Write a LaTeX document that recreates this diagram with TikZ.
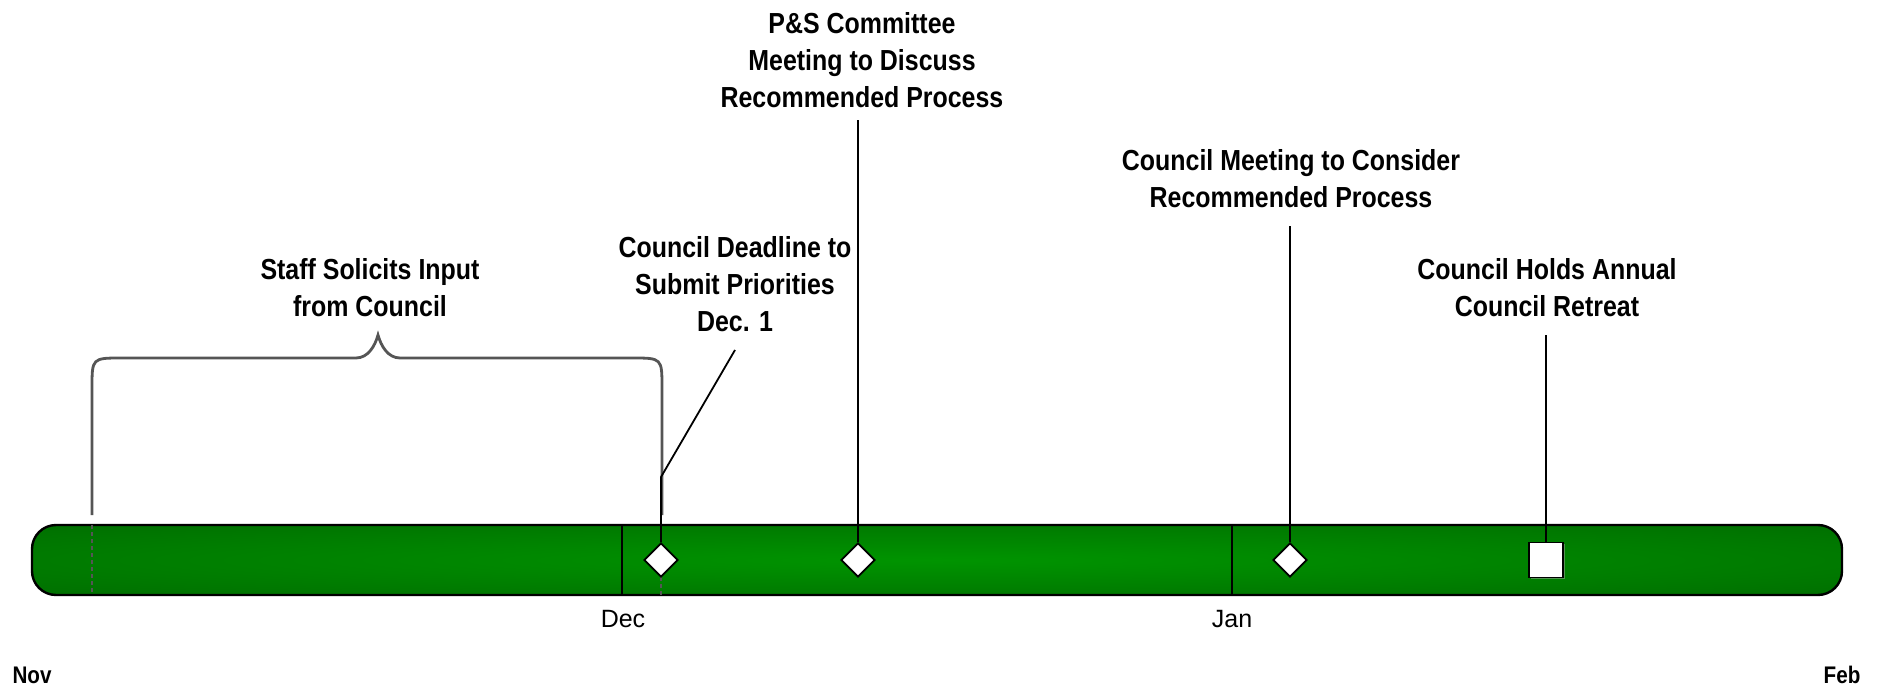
\documentclass[tikz,border=0pt]{standalone}
\usepackage{fontspec}
\setmainfont{Liberation Sans}
\newfontfamily\narrowfont[FakeStretch=0.86]{Liberation Sans}
\usetikzlibrary{shapes.geometric,shadows}
\definecolor{barlight}{RGB}{0,148,0}
\definecolor{bardark}{RGB}{0,96,0}
\definecolor{bracegray}{RGB}{85,85,85}
\pgfdeclareradialshading{barglow}{\pgfpoint{0bp}{0bp}}{color(0bp)=(barlight); color(50bp)=(bardark); color(72bp)=(bardark)}
\begin{document}
\begin{tikzpicture}
	[x=0.5pt,y=-0.5pt,
	timebar/.style={draw,line width=1.2pt,rounded corners=12pt,shade,shading=barglow,minimum width=905pt,minimum height=35pt,inner sep=0pt},
	milestone/.style={diamond,draw,line width=0.9pt,fill=white,minimum width=17pt,minimum height=17pt,inner sep=0pt},
	event/.style={rectangle,draw,line width=0.9pt,fill=white,minimum width=17pt,minimum height=17.5pt,inner sep=0pt,drop shadow={shadow xshift=0.8pt,shadow yshift=-0.8pt,fill=gray!70}},
	caption/.style={font=\narrowfont\bfseries\fontsize{14.5}{18.5}\selectfont,align=center,anchor=north,inner sep=0pt},
	month/.style={font=\fontsize{12.5}{15}\selectfont,anchor=base,inner sep=0pt},
	endmonth/.style={font=\narrowfont\bfseries\fontsize{12}{14}\selectfont,anchor=base,inner sep=0pt},
	leader/.style={line width=0.9pt},
	brace/.style={draw=bracegray,line width=1.4pt}]
	\useasboundingbox (0,0) rectangle (1881,690);
	\draw[brace] (92,515) -- (92,388) .. controls (92,358) .. (122,358) -- (356,358)
		.. controls (368,358) and (375,346) .. (378,335)
		.. controls (381,346) and (388,358) .. (400,358) -- (632,358)
		.. controls (662,358) .. (662,388) -- (662,515);
	\node[timebar] (bar) at (937,560) {};
	\foreach \x in {622,1232}
	{
		\draw[line width=0.8pt] (\x,525) -- (\x,595);
	}
	\draw[bracegray,line width=0.8pt,dash pattern=on 2pt off 1.5pt] (92,525) -- (92,595);
	\draw[bracegray,line width=0.8pt,dash pattern=on 2pt off 1.5pt] (661,577) -- (661,595);
	\node[month] (dec) at (623,627) {Dec};
	\node[month] (jan) at (1232,627) {Jan};
	\node[endmonth] (nov) at (32,683) {Nov};
	\node[endmonth] (feb) at (1842,683) {Feb};
	\coordinate (k1) at (661,477);
	\coordinate (t1) at (735,350);
	\coordinate (t2) at (858,120);
	\coordinate (t3) at (1290,226);
	\coordinate (t4) at (1546,335);
	\node[milestone] (m1) at (661,560) {};
	\node[milestone] (m2) at (858,560) {};
	\node[milestone] (m3) at (1290,560) {};
	\node[event] (m4) at (1546,560) {};
	\draw[leader] (m1.north) -- (k1) -- (t1);
	\foreach \m/\t in {m2/t2,m3/t3,m4/t4}
	{
		\draw[leader] (\m.north) -- (\t);
	}
	\node[caption] (l1) at (370,258) {Staff Solicits Input\\from Council};
	\node[caption] (l2) at (735,236) {Council Deadline to\\Submit Priorities\\Dec. 1};
	\node[caption] (l3) at (862,12) {P\&S Committee\\Meeting to Discuss\\Recommended Process};
	\node[caption] (l4) at (1291,149) {Council Meeting to Consider\\Recommended Process};
	\node[caption] (l5) at (1547,258) {Council Holds Annual\\Council Retreat};
\end{tikzpicture}
\end{document}
